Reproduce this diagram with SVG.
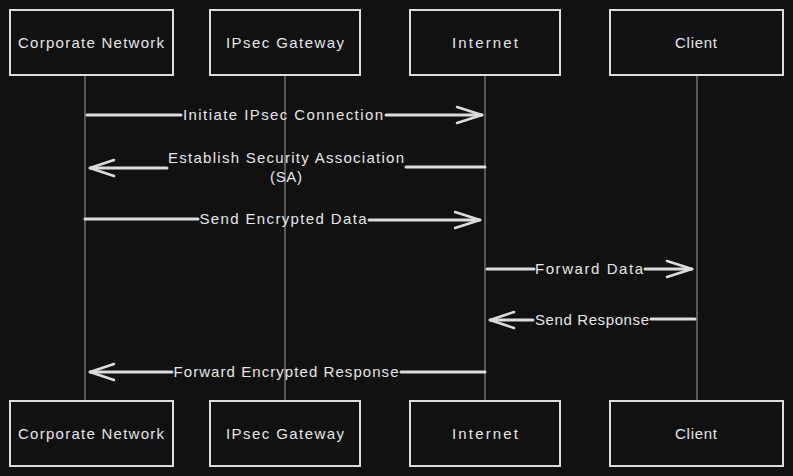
<svg xmlns="http://www.w3.org/2000/svg" width="793" height="476" viewBox="0 0 793 476">
<defs>
<style>
.bg{fill:#111111}
.box{fill:#111111;stroke:#dcdcdc;stroke-width:2}
.life{stroke:#8a8a8a;stroke-width:1.2}
.msg{stroke:#dcdcdc;stroke-width:3;fill:none;stroke-linecap:round;stroke-linejoin:round}
.head{stroke:#dcdcdc;stroke-width:2.5;fill:none;stroke-linecap:round;stroke-linejoin:round}
text{font-family:"Liberation Sans","DejaVu Sans",sans-serif;font-size:15px;fill:#e6e6e6;text-anchor:middle;dominant-baseline:central}
</style>
</defs>
<rect class="bg" x="0" y="0" width="793" height="476"/>
<g id="lifelines">
<line class="life" x1="85" y1="75" x2="85" y2="400"/>
<line class="life" x1="285" y1="75" x2="285" y2="400"/>
<line class="life" x1="485" y1="75" x2="485" y2="400"/>
<line class="life" x1="697" y1="75" x2="697" y2="400"/>
</g>
<g id="connectors">
<g id="m1">
<line class="msg" x1="87" y1="115" x2="181" y2="115"/>
<line class="msg" x1="386" y1="115" x2="482" y2="115"/>
<polyline class="head" points="457,107 482,115 457,123"/>
<text x="283" y="114" textLength="200" lengthAdjust="spacing">Initiate IPsec Connection</text>
</g>
<g id="m2">
<line class="msg" x1="90" y1="168" x2="167" y2="168"/>
<line class="msg" x1="406" y1="167" x2="485" y2="167"/>
<polyline class="head" points="114,160 90,168 114,176"/>
<text x="286" y="157" textLength="236" lengthAdjust="spacing">Establish Security Association</text>
<text x="286" y="176" textLength="32" lengthAdjust="spacing">(SA)</text>
</g>
<g id="m3">
<line class="msg" x1="85" y1="219" x2="198" y2="219"/>
<line class="msg" x1="369" y1="220" x2="480" y2="220"/>
<polyline class="head" points="455,212 480,220 455,228"/>
<text x="283" y="218" textLength="167" lengthAdjust="spacing">Send Encrypted Data</text>
</g>
<g id="m4">
<line class="msg" x1="487" y1="269" x2="534" y2="269"/>
<line class="msg" x1="645" y1="269" x2="692" y2="269"/>
<polyline class="head" points="667,261 692,269 667,277"/>
<text x="589" y="268" textLength="108" lengthAdjust="spacing">Forward Data</text>
</g>
<g id="m5">
<line class="msg" x1="490" y1="320" x2="533" y2="320"/>
<line class="msg" x1="651" y1="319" x2="695" y2="319"/>
<polyline class="head" points="514,312 490,320 514,328"/>
<text x="592" y="319" textLength="114" lengthAdjust="spacing">Send Response</text>
</g>
<g id="m6">
<line class="msg" x1="90" y1="372" x2="172" y2="372"/>
<line class="msg" x1="401" y1="372" x2="485" y2="372"/>
<polyline class="head" points="114,364 90,372 114,380"/>
<text x="286" y="371" textLength="225" lengthAdjust="spacing">Forward Encrypted Response</text>
</g>
</g>
<g id="corp-top"><rect class="box" x="10" y="10" width="163" height="65"/><text x="91" y="42" textLength="146" lengthAdjust="spacing">Corporate Network</text></g>
<g id="gw-top"><rect class="box" x="210" y="10" width="150" height="65"/><text x="285" y="42" textLength="118" lengthAdjust="spacing">IPsec Gateway</text></g>
<g id="inet-top"><rect class="box" x="410" y="10" width="150" height="65"/><text x="485" y="42" textLength="66" lengthAdjust="spacing">Internet</text></g>
<g id="client-top"><rect class="box" x="610" y="10" width="173" height="65"/><text x="696" y="42" textLength="42" lengthAdjust="spacing">Client</text></g>
<g id="corp-bottom"><rect class="box" x="10" y="401" width="163" height="65"/><text x="91" y="433" textLength="146" lengthAdjust="spacing">Corporate Network</text></g>
<g id="gw-bottom"><rect class="box" x="210" y="401" width="150" height="65"/><text x="285" y="433" textLength="118" lengthAdjust="spacing">IPsec Gateway</text></g>
<g id="inet-bottom"><rect class="box" x="410" y="401" width="150" height="65"/><text x="485" y="433" textLength="66" lengthAdjust="spacing">Internet</text></g>
<g id="client-bottom"><rect class="box" x="610" y="401" width="173" height="65"/><text x="696" y="433" textLength="42" lengthAdjust="spacing">Client</text></g>
</svg>
